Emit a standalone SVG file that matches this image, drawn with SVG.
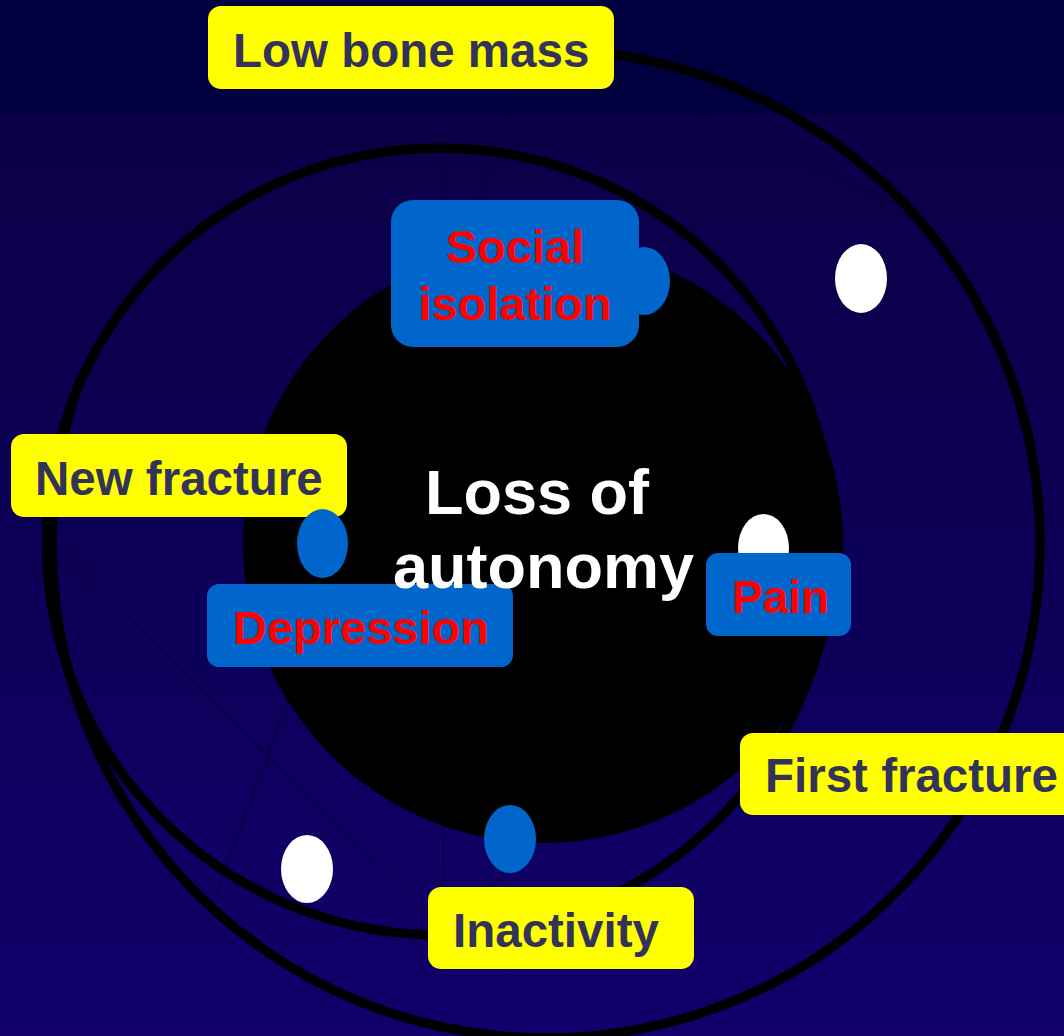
<svg xmlns="http://www.w3.org/2000/svg" width="1064" height="1036" viewBox="0 0 1064 1036">
  <defs>
    <linearGradient id="bg" x1="0" y1="0" x2="0" y2="1">
      <stop offset="0" stop-color="#00003e"/>
      <stop offset="0.11" stop-color="#000040"/>
      <stop offset="0.112" stop-color="#0b0047"/>
      <stop offset="0.5" stop-color="#0c0055"/>
      <stop offset="1" stop-color="#10006a"/>
    </linearGradient>
    <style>
      .ring { fill: none; stroke: #000000; stroke-width: 9.5; }
      .spoke { fill: none; stroke: #080036; stroke-width: 1.2; }
      .ybox { fill: #ffff00; }
      .bbox { fill: #0066cc; }
      .ytxt { font-family: "Liberation Sans", Arial, sans-serif; font-weight: bold; font-size: 47.5px; fill: #333359; }
      .rtxt { font-family: "Liberation Sans", Arial, sans-serif; font-weight: bold; font-size: 47px; fill: #ff0000; }
      .wtxt { font-family: "Liberation Sans", Arial, sans-serif; font-weight: bold; font-size: 63px; fill: #ffffff; }
      .wdot { fill: #ffffff; }
      .bdot { fill: #0066cc; }
    </style>
  </defs>

  <rect x="0" y="0" width="1064" height="1036" fill="url(#bg)"/>

  <g id="connectors">
    <line class="spoke" x1="520" y1="89" x2="478" y2="200"/>
    <line class="spoke" x1="443" y1="148" x2="443" y2="200"/>
    <line class="spoke" x1="613" y1="78" x2="902" y2="207"/>
    <line class="spoke" x1="53" y1="543" x2="430" y2="915"/>
    <line class="spoke" x1="288" y1="701" x2="212" y2="903"/>
    <line class="spoke" x1="443" y1="826" x2="443" y2="887"/>
    <line class="spoke" x1="490" y1="887" x2="504" y2="873"/>
    <path class="ring" d="M 450 59.4 A 494 494 0 1 1 80 380"/>
    <circle class="ring" cx="440" cy="541.5" r="393.5"/>
  </g>

  <g id="core">
    <circle cx="543" cy="543" r="300" fill="#000000"/>
  </g>

  <g id="dot-white-1"><ellipse class="wdot" cx="861" cy="278.5" rx="26" ry="34.5"/></g>
  <g id="dot-white-2"><ellipse class="wdot" cx="763.5" cy="548" rx="25.5" ry="34"/></g>
  <g id="dot-white-3"><ellipse class="wdot" cx="307" cy="869" rx="26" ry="34"/></g>
  <g id="dot-blue-1"><ellipse class="bdot" cx="644" cy="281" rx="26" ry="34"/></g>
  <g id="dot-blue-3"><ellipse class="bdot" cx="510" cy="839" rx="26" ry="34"/></g>

  <g id="low-bone-mass">
    <rect class="ybox" x="208" y="6" width="406" height="83" rx="13"/>
    <text class="ytxt" x="233" y="67">Low bone mass</text>
  </g>

  <g id="social-isolation">
    <rect class="bbox" x="391" y="200" width="248" height="147" rx="22"/>
    <text class="rtxt" x="515" y="263" text-anchor="middle">Social</text>
    <text class="rtxt" x="515" y="320" text-anchor="middle">isolation</text>
  </g>

  <g id="new-fracture">
    <rect class="ybox" x="11" y="434" width="336" height="83" rx="13"/>
    <text class="ytxt" x="35" y="495">New fracture</text>
  </g>

  <g id="dot-blue-2"><ellipse class="bdot" cx="322.5" cy="543.5" rx="25.5" ry="34.5"/></g>

  <g id="depression">
    <rect class="bbox" x="207" y="584" width="306" height="83" rx="12"/>
    <text class="rtxt" x="233" y="644">Depression</text>
  </g>

  <g id="core-label">
    <text class="wtxt" x="425" y="514">Loss of</text>
    <text class="wtxt" x="393" y="588">autonomy</text>
  </g>

  <g id="pain">
    <rect class="bbox" x="706" y="553" width="145" height="83" rx="12"/>
    <text class="rtxt" x="732" y="613" style="font-size:46px">Pain</text>
  </g>

  <g id="first-fracture">
    <rect class="ybox" x="740" y="733" width="340" height="82" rx="13"/>
    <text class="ytxt" x="765" y="792">First fracture</text>
  </g>

  <g id="inactivity">
    <rect class="ybox" x="428" y="887" width="266" height="82" rx="13"/>
    <text class="ytxt" x="453" y="947">Inactivity</text>
  </g>
</svg>
